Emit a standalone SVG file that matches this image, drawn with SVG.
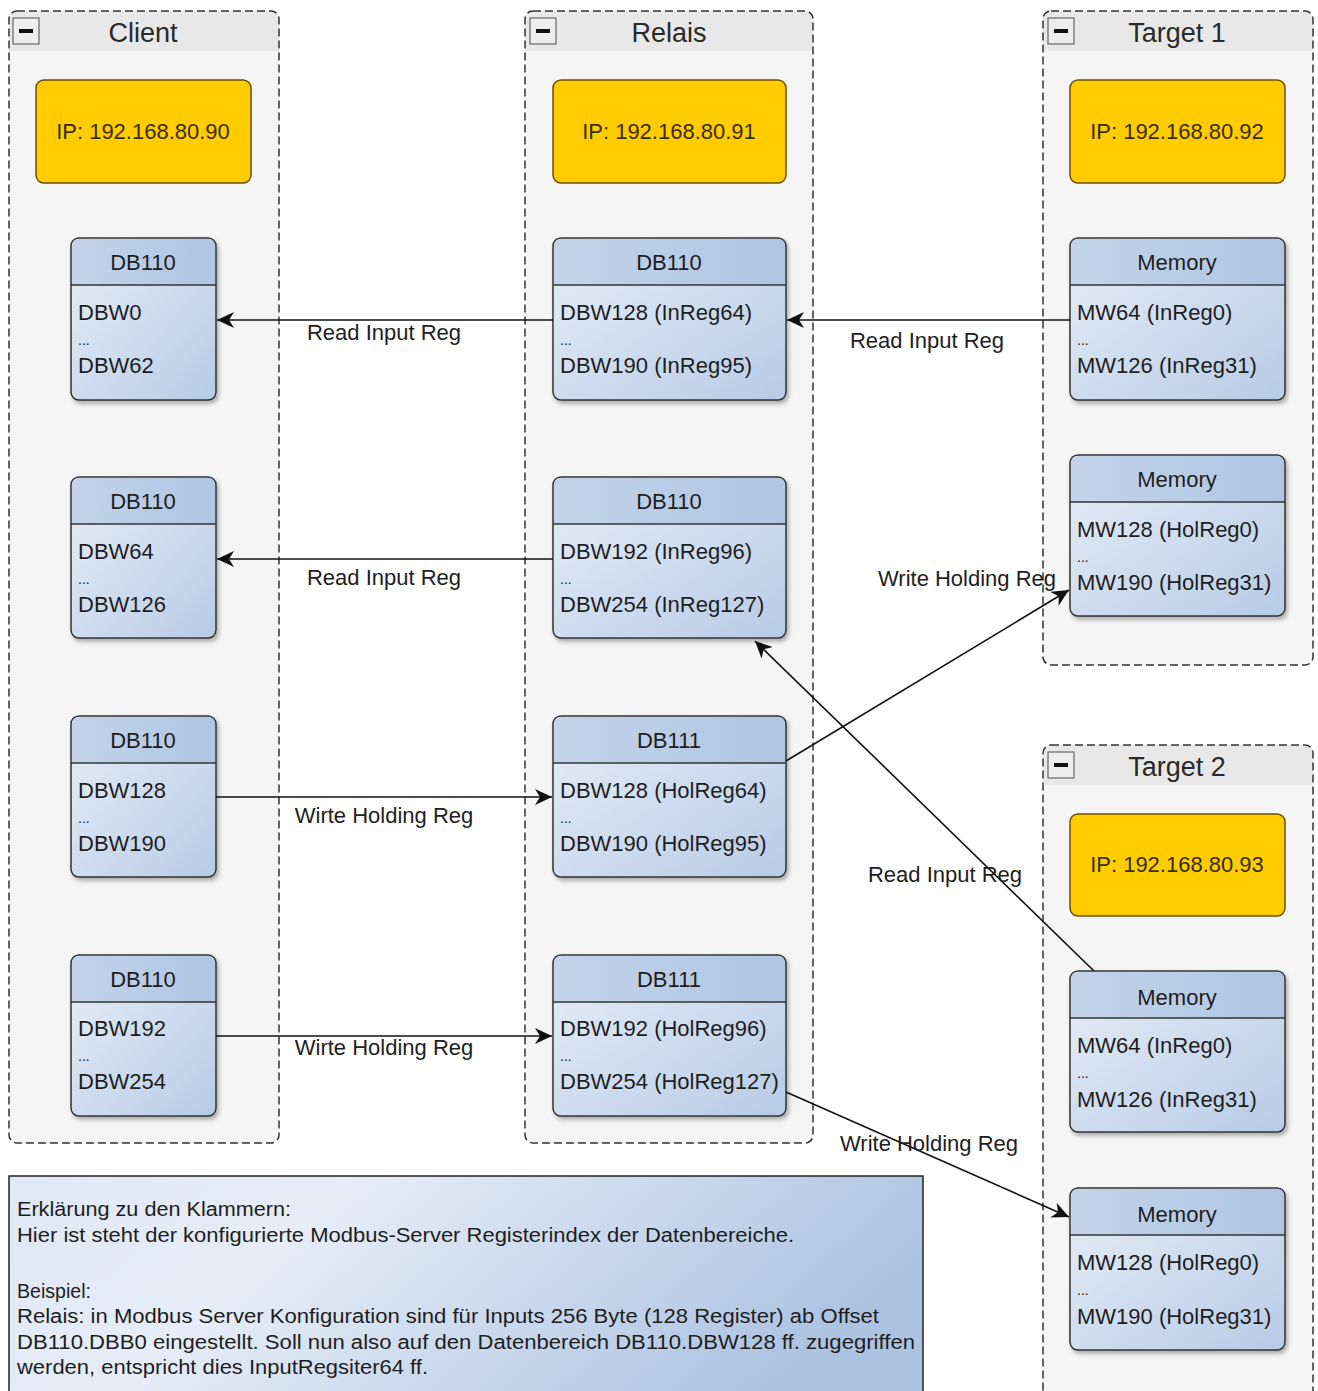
<svg xmlns="http://www.w3.org/2000/svg" width="1318" height="1391" viewBox="0 0 1318 1391">
<style>
text{font-family:"Liberation Sans",Arial,sans-serif;fill:#1e1e1e}
.cont{fill:#f5f5f5;stroke:none}
.hdr{fill:#e8e8e8}
.cb{fill:none;stroke:#333;stroke-width:1.5;stroke-dasharray:8 4}
.ttl{font-size:27px;text-anchor:middle;fill:#2a2a2a}
.minus{fill:#eeeeee;stroke:#666;stroke-width:1.2}
.ip{fill:#ffcc00;stroke:#6b5000;stroke-width:1.5}
.iptx{font-size:22px;text-anchor:middle;fill:#3a2d00}
.db{fill:url(#gBody);stroke:#333;stroke-width:1.5;filter:url(#sh)}
.dbh{fill:url(#gHead)}
.sep{stroke:#333;stroke-width:1.5}
.dh{font-size:22px;text-anchor:middle}
.dr{font-size:22px}
.dots{font-size:14px}
.lbl{font-size:22px;text-anchor:middle}
.con{stroke:#111;stroke-width:1.6;fill:none;marker-end:url(#arr)}
.note{font-size:20px}
</style>
<defs>
<linearGradient id="gBody" x1="0" y1="0" x2="1" y2="1">
<stop offset="0" stop-color="#e8eef8"/><stop offset="1" stop-color="#b7cbe6"/>
</linearGradient>
<linearGradient id="gHead" x1="0" y1="0" x2="1" y2="0">
<stop offset="0" stop-color="#c3d4ea"/><stop offset="1" stop-color="#afc5e3"/>
</linearGradient>
<linearGradient id="gNote" x1="0" y1="0" x2="1" y2="0.3">
<stop offset="0" stop-color="#dfe8f5"/><stop offset="0.35" stop-color="#e6edf7"/><stop offset="1" stop-color="#adc3e2"/>
</linearGradient>
<filter id="sh" x="-10%" y="-10%" width="125%" height="125%">
<feDropShadow dx="2" dy="3" stdDeviation="2" flood-color="#000" flood-opacity="0.3"/>
</filter>
<marker id="arr" markerUnits="userSpaceOnUse" markerWidth="18" markerHeight="16" refX="17" refY="8" orient="auto">
<path d="M0,0 L17,8 L0,16 L5,8 z" fill="#111"/>
</marker>
</defs>
<rect width="1318" height="1391" fill="#ffffff"/>

<g id="client">
<rect class="cont" x="9" y="11" width="270" height="1132" rx="8"/>
<path class="hdr" d="M17,11 H271 A8,8 0 0 1 279,19 V51 H9 V19 A8,8 0 0 1 17,11 Z"/>
<rect class="cb" x="9" y="11" width="270" height="1132" rx="8"/>
<rect class="minus" x="13" y="18" width="26" height="26"/><rect x="19" y="29" width="14" height="4" fill="#111"/>
<text class="ttl" x="143" y="42">Client</text>
</g>
<g id="relais">
<rect class="cont" x="525" y="11" width="288" height="1132" rx="8"/>
<path class="hdr" d="M533,11 H805 A8,8 0 0 1 813,19 V51 H525 V19 A8,8 0 0 1 533,11 Z"/>
<rect class="cb" x="525" y="11" width="288" height="1132" rx="8"/>
<rect class="minus" x="530" y="18" width="26" height="26"/><rect x="536" y="29" width="14" height="4" fill="#111"/>
<text class="ttl" x="669" y="42">Relais</text>
</g>
<g id="target1">
<rect class="cont" x="1043" y="11" width="270" height="654" rx="8"/>
<path class="hdr" d="M1051,11 H1305 A8,8 0 0 1 1313,19 V51 H1043 V19 A8,8 0 0 1 1051,11 Z"/>
<rect class="cb" x="1043" y="11" width="270" height="654" rx="8"/>
<rect class="minus" x="1048" y="18" width="26" height="26"/><rect x="1054" y="29" width="14" height="4" fill="#111"/>
<text class="ttl" x="1177" y="42">Target 1</text>
</g>
<g id="target2">
<rect class="cont" x="1043" y="745" width="270" height="680" rx="8"/>
<path class="hdr" d="M1051,745 H1305 A8,8 0 0 1 1313,753 V785 H1043 V753 A8,8 0 0 1 1051,745 Z"/>
<rect class="cb" x="1043" y="745" width="270" height="680" rx="8"/>
<rect class="minus" x="1048" y="752" width="26" height="26"/><rect x="1054" y="763" width="14" height="4" fill="#111"/>
<text class="ttl" x="1177" y="776">Target 2</text>
</g>

<g id="ip-client"><rect class="ip" x="36" y="80" width="215" height="103" rx="8"/><text class="iptx" x="143" y="139">IP: 192.168.80.90</text></g>
<g id="ip-relais"><rect class="ip" x="553" y="80" width="233" height="103" rx="8"/><text class="iptx" x="669" y="139">IP: 192.168.80.91</text></g>
<g id="ip-target1"><rect class="ip" x="1070" y="80" width="215" height="103" rx="8"/><text class="iptx" x="1177" y="139">IP: 192.168.80.92</text></g>
<g id="ip-target2"><rect class="ip" x="1070" y="814" width="215" height="102" rx="8"/><text class="iptx" x="1177" y="872">IP: 192.168.80.93</text></g>

<g id="c-db1">
<rect class="db" x="71" y="238" width="145" height="162" rx="8"/>
<path class="dbh" d="M79,239 H208 A7,7 0 0 1 215,246 V285 H72 V246 A7,7 0 0 1 79,239 Z"/>
<line class="sep" x1="71" y1="285" x2="216" y2="285"/>
<text class="dh" x="143" y="270">DB110</text>
<text class="dr" x="78" y="320">DBW0</text><text class="dots" x="78" y="345">...</text><text class="dr" x="78" y="373">DBW62</text>
</g>
<g id="c-db2">
<rect class="db" x="71" y="477" width="145" height="161" rx="8"/>
<path class="dbh" d="M79,478 H208 A7,7 0 0 1 215,485 V524 H72 V485 A7,7 0 0 1 79,478 Z"/>
<line class="sep" x1="71" y1="524" x2="216" y2="524"/>
<text class="dh" x="143" y="509">DB110</text>
<text class="dr" x="78" y="559">DBW64</text><text class="dots" x="78" y="584">...</text><text class="dr" x="78" y="612">DBW126</text>
</g>
<g id="c-db3">
<rect class="db" x="71" y="716" width="145" height="161" rx="8"/>
<path class="dbh" d="M79,717 H208 A7,7 0 0 1 215,724 V763 H72 V724 A7,7 0 0 1 79,717 Z"/>
<line class="sep" x1="71" y1="763" x2="216" y2="763"/>
<text class="dh" x="143" y="748">DB110</text>
<text class="dr" x="78" y="798">DBW128</text><text class="dots" x="78" y="823">...</text><text class="dr" x="78" y="851">DBW190</text>
</g>
<g id="c-db4">
<rect class="db" x="71" y="955" width="145" height="161" rx="8"/>
<path class="dbh" d="M79,956 H208 A7,7 0 0 1 215,963 V1002 H72 V963 A7,7 0 0 1 79,956 Z"/>
<line class="sep" x1="71" y1="1002" x2="216" y2="1002"/>
<text class="dh" x="143" y="987">DB110</text>
<text class="dr" x="78" y="1036">DBW192</text><text class="dots" x="78" y="1061">...</text><text class="dr" x="78" y="1089">DBW254</text>
</g>

<g id="r-db1">
<rect class="db" x="553" y="238" width="233" height="162" rx="8"/>
<path class="dbh" d="M561,239 H778 A7,7 0 0 1 785,246 V285 H554 V246 A7,7 0 0 1 561,239 Z"/>
<line class="sep" x1="553" y1="285" x2="786" y2="285"/>
<text class="dh" x="669" y="270">DB110</text>
<text class="dr" x="560" y="320">DBW128 (InReg64)</text><text class="dots" x="560" y="345">...</text><text class="dr" x="560" y="373">DBW190 (InReg95)</text>
</g>
<g id="r-db2">
<rect class="db" x="553" y="477" width="233" height="161" rx="8"/>
<path class="dbh" d="M561,478 H778 A7,7 0 0 1 785,485 V524 H554 V485 A7,7 0 0 1 561,478 Z"/>
<line class="sep" x1="553" y1="524" x2="786" y2="524"/>
<text class="dh" x="669" y="509">DB110</text>
<text class="dr" x="560" y="559">DBW192 (InReg96)</text><text class="dots" x="560" y="584">...</text><text class="dr" x="560" y="612">DBW254 (InReg127)</text>
</g>
<g id="r-db3">
<rect class="db" x="553" y="716" width="233" height="161" rx="8"/>
<path class="dbh" d="M561,717 H778 A7,7 0 0 1 785,724 V763 H554 V724 A7,7 0 0 1 561,717 Z"/>
<line class="sep" x1="553" y1="763" x2="786" y2="763"/>
<text class="dh" x="669" y="748">DB111</text>
<text class="dr" x="560" y="798">DBW128 (HolReg64)</text><text class="dots" x="560" y="823">...</text><text class="dr" x="560" y="851">DBW190 (HolReg95)</text>
</g>
<g id="r-db4">
<rect class="db" x="553" y="955" width="233" height="161" rx="8"/>
<path class="dbh" d="M561,956 H778 A7,7 0 0 1 785,963 V1002 H554 V963 A7,7 0 0 1 561,956 Z"/>
<line class="sep" x1="553" y1="1002" x2="786" y2="1002"/>
<text class="dh" x="669" y="987">DB111</text>
<text class="dr" x="560" y="1036">DBW192 (HolReg96)</text><text class="dots" x="560" y="1061">...</text><text class="dr" x="560" y="1089">DBW254 (HolReg127)</text>
</g>

<g id="t1-mem1">
<rect class="db" x="1070" y="238" width="215" height="162" rx="8"/>
<path class="dbh" d="M1078,239 H1277 A7,7 0 0 1 1284,246 V285 H1071 V246 A7,7 0 0 1 1078,239 Z"/>
<line class="sep" x1="1070" y1="285" x2="1285" y2="285"/>
<text class="dh" x="1177" y="270">Memory</text>
<text class="dr" x="1077" y="320">MW64 (InReg0)</text><text class="dots" x="1077" y="345">...</text><text class="dr" x="1077" y="373">MW126 (InReg31)</text>
</g>
<g id="t1-mem2">
<rect class="db" x="1070" y="455" width="215" height="161" rx="8"/>
<path class="dbh" d="M1078,456 H1277 A7,7 0 0 1 1284,463 V502 H1071 V463 A7,7 0 0 1 1078,456 Z"/>
<line class="sep" x1="1070" y1="502" x2="1285" y2="502"/>
<text class="dh" x="1177" y="487">Memory</text>
<text class="dr" x="1077" y="537">MW128 (HolReg0)</text><text class="dots" x="1077" y="562">...</text><text class="dr" x="1077" y="590">MW190 (HolReg31)</text>
</g>
<g id="t2-mem1">
<rect class="db" x="1070" y="971" width="215" height="161" rx="8"/>
<path class="dbh" d="M1078,972 H1277 A7,7 0 0 1 1284,979 V1018 H1071 V979 A7,7 0 0 1 1078,972 Z"/>
<line class="sep" x1="1070" y1="1018" x2="1285" y2="1018"/>
<text class="dh" x="1177" y="1005">Memory</text>
<text class="dr" x="1077" y="1053">MW64 (InReg0)</text><text class="dots" x="1077" y="1078">...</text><text class="dr" x="1077" y="1107">MW126 (InReg31)</text>
</g>
<g id="t2-mem2">
<rect class="db" x="1070" y="1188" width="215" height="162" rx="8"/>
<path class="dbh" d="M1078,1189 H1277 A7,7 0 0 1 1284,1196 V1235 H1071 V1196 A7,7 0 0 1 1078,1189 Z"/>
<line class="sep" x1="1070" y1="1235" x2="1285" y2="1235"/>
<text class="dh" x="1177" y="1222">Memory</text>
<text class="dr" x="1077" y="1270">MW128 (HolReg0)</text><text class="dots" x="1077" y="1295">...</text><text class="dr" x="1077" y="1324">MW190 (HolReg31)</text>
</g>

<g id="connectors">
<line class="con" x1="553" y1="320" x2="217" y2="320"/>
<line class="con" x1="1070" y1="320" x2="787" y2="320"/>
<line class="con" x1="553" y1="559" x2="217" y2="559"/>
<line class="con" x1="216" y1="797" x2="552" y2="797"/>
<line class="con" x1="216" y1="1036" x2="552" y2="1036"/>
<line class="con" x1="786" y1="761" x2="1069" y2="590"/>
<line class="con" x1="1094" y1="971" x2="755" y2="641"/>
<line class="con" x1="786" y1="1092" x2="1069" y2="1217"/>
<text class="lbl" x="384" y="340">Read Input Reg</text>
<text class="lbl" x="927" y="348">Read Input Reg</text>
<text class="lbl" x="384" y="585">Read Input Reg</text>
<text class="lbl" x="384" y="823">Wirte Holding Reg</text>
<text class="lbl" x="384" y="1055">Wirte Holding Reg</text>
<text class="lbl" x="967" y="586">Write Holding Reg</text>
<text class="lbl" x="945" y="882">Read Input Reg</text>
<text class="lbl" x="929" y="1151">Write Holding Reg</text>
</g>

<g id="note">
<rect x="9" y="1176" width="914" height="240" fill="url(#gNote)" stroke="#222" stroke-width="1.5"/>
<text class="note" x="17" y="1216" textLength="274" lengthAdjust="spacingAndGlyphs">Erklärung zu den Klammern:</text>
<text class="note" x="17" y="1242" textLength="777" lengthAdjust="spacingAndGlyphs">Hier ist steht der konfigurierte Modbus-Server Registerindex der Datenbereiche.</text>
<text class="note" x="17" y="1298" textLength="74" lengthAdjust="spacingAndGlyphs">Beispiel:</text>
<text class="note" x="17" y="1323" textLength="862" lengthAdjust="spacingAndGlyphs">Relais: in Modbus Server Konfiguration sind für Inputs 256 Byte (128 Register) ab Offset</text>
<text class="note" x="17" y="1349" textLength="898" lengthAdjust="spacingAndGlyphs">DB110.DBB0 eingestellt. Soll nun also auf den Datenbereich DB110.DBW128 ff. zugegriffen</text>
<text class="note" x="17" y="1374" textLength="411" lengthAdjust="spacingAndGlyphs">werden, entspricht dies InputRegsiter64 ff.</text>
</g>
</svg>
